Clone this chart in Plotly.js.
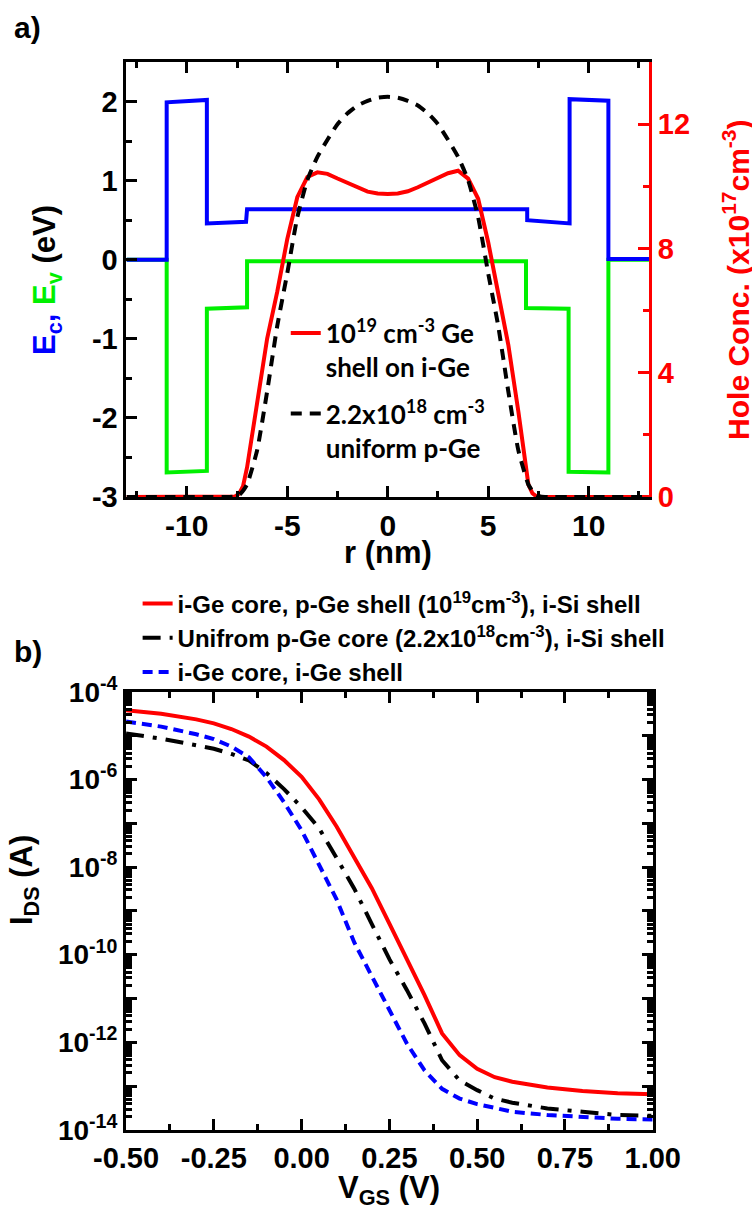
<!DOCTYPE html>
<html>
<head>
<meta charset="utf-8">
<script src="https://cdn.plot.ly/plotly-3.0.1.min.js"></script>
<style>html,body{margin:0;padding:0;background:#fff;}#chart{width:752px;height:1214px;}</style>
</head>
<body>
<div id="chart"></div>
<script>
// ---------- Panel a) band edges (eV) vs r (nm) ----------
const ecR = [-13, -11, -11, -9, -9, -7.05, -7.0, 6.94, 6.94, 9.05, 9.05, 10.98, 10.98, 13];
const ecE = [0, 0, 1.99, 2.02, 0.46, 0.48, 0.64, 0.64, 0.5, 0.46, 2.03, 2.01, 0.01, 0.01];
const evR = [-13, -11, -11, -9, -9, -7.0, -7.0, 6.88, 6.88, 9.0, 9.0, 10.98, 10.98, 13];
const evE = [0, 0, -2.69, -2.67, -0.62, -0.6, -0.02, -0.02, -0.61, -0.62, -2.68, -2.69, 0, 0];

// ---------- Panel a) hole concentration (x1e17 cm^-3) ----------
const holeR = [-13, -11, -9, -8, -7.6, -7.4, -7.2, -7.0, -6.5, -6.0, -5.5, -5.0, -4.5, -4.0, -3.5, -3.0, -2.5, -2.0, -1.5, -1.0, -0.5, 0,
               0.5, 1.0, 1.5, 2.0, 2.5, 3.0, 3.5, 4.0, 4.5, 5.0, 5.5, 6.0, 6.5, 7.0, 7.2, 7.4, 7.6, 8, 9, 11, 13];
const holeShell = [0, 0, 0, 0, 0.02, 0.1, 0.35, 0.95, 3.0, 5.1, 6.6, 8.3, 9.65, 10.3, 10.45, 10.4, 10.25, 10.1, 9.95, 9.83, 9.77, 9.75,
                   9.77, 9.84, 9.97, 10.12, 10.28, 10.42, 10.5, 10.25, 9.6, 8.2, 6.55, 4.9, 2.75, 0.4, 0.12, 0.02, 0, 0, 0, 0, 0];
const holeUniform = [0, 0, 0, 0, 0.02, 0.06, 0.2, 0.4, 1.5, 3.4, 5.5, 7.2, 9.0, 10.2, 10.95, 11.5, 12.0, 12.35, 12.6, 12.75, 12.85, 12.88,
                     12.85, 12.75, 12.6, 12.35, 12.0, 11.5, 10.95, 10.2, 9.0, 7.2, 5.5, 3.4, 1.5, 0.4, 0.2, 0.06, 0.02, 0, 0, 0, 0];

// ---------- Panel b) transfer curves ----------
const vgs = [-0.5, -0.4, -0.3, -0.25, -0.2, -0.15, -0.1, -0.05, 0, 0.05, 0.1, 0.15, 0.2, 0.25, 0.3, 0.35, 0.4, 0.45, 0.5, 0.55, 0.6, 0.7, 0.8, 0.9, 1.0];
const idsShell = [3.8e-5, 3.16e-5, 2.34e-5, 1.9e-5, 1.41e-5, 9.5e-6, 5.6e-6, 2.75e-6, 1.15e-6, 3.5e-7, 8.3e-8, 1.7e-8, 3.3e-9, 5.1e-10, 8.1e-11, 1.2e-11, 1.6e-12, 5.1e-13, 2.5e-13, 1.6e-13, 1.26e-13, 9.3e-14, 7.8e-14, 6.9e-14, 6.5e-14];
const idsUniform = [1.12e-5, 8.5e-6, 6.0e-6, 5.0e-6, 3.8e-6, 2.7e-6, 1.4e-6, 6.0e-7, 2.3e-7, 7.6e-8, 1.6e-8, 3.2e-9, 5.0e-10, 7.9e-11, 1.55e-11, 2.7e-12, 3.9e-13, 1.35e-13, 8.1e-14, 5.2e-14, 4.2e-14, 3.1e-14, 2.6e-14, 2.2e-14, 2.1e-14];
const idsIntrinsic = [2.1e-5, 1.6e-5, 1.07e-5, 8.3e-6, 5.6e-6, 3.2e-6, 1.12e-6, 3.0e-7, 6.9e-8, 1.12e-8, 1.8e-9, 1.9e-10, 3.2e-11, 5.0e-12, 9.3e-13, 2.3e-13, 8.7e-14, 5.2e-14, 3.9e-14, 3.2e-14, 2.6e-14, 2.2e-14, 1.95e-14, 1.8e-14, 1.74e-14];

// ---------- Tick labels ----------
const rTicks = [-10, -5, 0, 5, 10];
const rTickText = ['-10', '-5', '0', '5', '10'];
const eTicks = [-3, -2, -1, 0, 1, 2];
const eTickText = ['-3', '-2', '-1', '0', '1', '2'];
const hTicks = [0, 4, 8, 12];
const hTickText = ['0', '4', '8', '12'];
const vTicks = [-0.5, -0.25, 0, 0.25, 0.5, 0.75, 1.0];
const vTickText = ['-0.50', '-0.25', '0.00', '0.25', '0.50', '0.75', '1.00'];
const iTicks = [1e-14, 1e-13, 1e-12, 1e-11, 1e-10, 1e-9, 1e-8, 1e-7, 1e-6, 1e-5, 1e-4];
const iTickText = ['10<sup>-14</sup>', ' ', '10<sup>-12</sup>', ' ', '10<sup>-10</sup>', ' ', '10<sup>-8</sup>', ' ', '10<sup>-6</sup>', ' ', '10<sup>-4</sup>'];
// minor tick positions
const rMinor = [-12.5, -7.5, -2.5, 2.5, 7.5, 12.5];
const eMinor = [-2.5, -1.5, -0.5, 0.5, 1.5, 2.5];
const hMinor = [2, 6, 10, 14];
const vMinor = [-0.375, -0.125, 0.125, 0.375, 0.625, 0.875];
const iMinor = [];
for (let e = -14; e < -4; e++) { for (let m = 2; m <= 9; m++) { iMinor.push(m * Math.pow(10, e)); } }

// ---------- Texts ----------
const legA = ['10<sup>19</sup> cm<sup>-3</sup> Ge<br>shell on i-Ge', '2.2x10<sup>18</sup> cm<sup>-3</sup><br>uniform p-Ge'];
const legB = ['i-Ge core, p-Ge shell (10<sup>19</sup>cm<sup>-3</sup>), i-Si shell',
              'Unifrom p-Ge core (2.2x10<sup>18</sup>cm<sup>-3</sup>), i-Si shell',
              'i-Ge core, i-Ge shell'];
const titleEnergy = '<span style="color:#0000ff">E<sub>c</sub>,</span> <span style="color:#00f000">E<sub>v</sub></span> (eV)';
const titleHole = 'Hole Conc. (x10<sup>17</sup>cm<sup>-3</sup>)';
const titleR = 'r (nm)';
const titleV = 'V<sub>GS</sub> (V)';
const titleI = 'I<sub>DS</sub> (A)';

const RED = '#ff0000', BLUE = '#0000ff', GREEN = '#00f000', BLACK = '#000';
const AR = 'Liberation Sans, Arial, sans-serif';
const tf = (size, color) => ({family: AR, size: size, color: color || BLACK, weight: 'bold'});

const traces = [
  {x: evR, y: evE, xaxis: 'x', yaxis: 'y', mode: 'lines', line: {color: GREEN, width: 4}, showlegend: false},
  {x: ecR, y: ecE, xaxis: 'x', yaxis: 'y', mode: 'lines', line: {color: BLUE, width: 4}, showlegend: false},
  {x: holeR, y: holeShell, xaxis: 'x', yaxis: 'y2', mode: 'lines', line: {color: RED, width: 4},
   name: legA[0], legend: 'legend', legendgroup: 'a1'},
  {x: holeR, y: holeUniform, xaxis: 'x', yaxis: 'y2', mode: 'lines', line: {color: BLACK, width: 4, dash: '11px,8px', shape: 'spline', smoothing: 0.5},
   name: legA[1], legend: 'legend', legendgroup: 'a2'},
  {x: vgs, y: idsShell, xaxis: 'x2', yaxis: 'y3', mode: 'lines', line: {color: RED, width: 4},
   name: legB[0], legend: 'legend2', legendgroup: 'b1'},
  {x: vgs, y: idsUniform, xaxis: 'x2', yaxis: 'y3', mode: 'lines', line: {color: BLACK, width: 4, dash: '18px,9px,4px,9px'},
   name: legB[1], legend: 'legend2', legendgroup: 'b2'},
  {x: vgs, y: idsIntrinsic, xaxis: 'x2', yaxis: 'y3', mode: 'lines', line: {color: BLUE, width: 4, dash: '10px,6px'},
   name: legB[2], legend: 'legend2', legendgroup: 'b3'}
];

const axBase = {showline: true, linewidth: 3, linecolor: BLACK, ticks: 'inside', ticklen: 11, tickwidth: 3, tickcolor: BLACK,
                showgrid: false, zeroline: false, tickmode: 'array'};
const mn = (vals, c) => ({tickmode: 'array', tickvals: vals, ticks: 'inside', ticklen: 6, tickwidth: 3, tickcolor: c || BLACK});
const ann = (text, x, y, size, color, angle) => ({text: text, xref: 'paper', yref: 'paper', x: x, y: y, showarrow: false,
  font: tf(size, color), xanchor: 'center', yanchor: 'middle', textangle: angle || 0});

const layout = {
  width: 752, height: 1214,
  margin: {l: 0, r: 0, t: 0, b: 0},
  xaxis: Object.assign({}, axBase, {
    domain: [0.1682, 0.863], anchor: 'y', range: [-13, 13], mirror: 'ticks',
    tickvals: rTicks, ticktext: rTickText, tickfont: tf(30), minor: mn(rMinor)
  }),
  yaxis: Object.assign({}, axBase, {
    domain: [0.5906, 0.9489], anchor: 'x', range: [-3, 2.5],
    tickvals: eTicks, ticktext: eTickText, tickfont: tf(29), minor: mn(eMinor)
  }),
  yaxis2: Object.assign({}, axBase, {
    overlaying: 'y', side: 'right', anchor: 'x', range: [0, 14],
    linecolor: RED, tickcolor: RED,
    tickvals: hTicks, ticktext: hTickText, tickfont: tf(29, RED), minor: mn(hMinor, RED)
  }),
  xaxis2: Object.assign({}, axBase, {
    domain: [0.1676, 0.868], anchor: 'y3', range: [-0.5, 1.0], mirror: 'ticks',
    tickvals: vTicks, ticktext: vTickText, tickfont: tf(29), minor: mn(vMinor)
  }),
  yaxis3: Object.assign({}, axBase, {
    domain: [0.0692, 0.4302], anchor: 'x2', type: 'log', range: [-14, -4], mirror: 'ticks',
    tickvals: iTicks, ticktext: iTickText, tickfont: tf(28), minor: mn(iMinor)
  }),
  legend: {
    x: 0.380, y: 0.745, xanchor: 'left', yanchor: 'top', bgcolor: 'rgba(0,0,0,0)', borderwidth: 0,
    font: {family: 'Lato, Open Sans, sans-serif', size: 26, color: BLACK, weight: 'bold'},
    valign: 'top', traceorder: 'grouped', tracegroupgap: 10
  },
  legend2: {
    x: 0.183, y: 0.521, xanchor: 'left', yanchor: 'top', bgcolor: 'rgba(0,0,0,0)', borderwidth: 0,
    font: tf(24), traceorder: 'grouped', tracegroupgap: 0
  },
  annotations: [
    ann('a)', 0.037, 0.977, 30),
    ann('b)', 0.037, 0.463, 30),
    ann(titleEnergy, 0.0625, 0.7694, 31, BLACK, -90),
    ann(titleHole, 0.9787, 0.7694, 30, RED, -90),
    ann(titleR, 0.516, 0.5445, 31),
    ann(titleV, 0.517, 0.0198, 31),
    ann(titleI, 0.032, 0.2751, 31, BLACK, -90)
  ],
  showlegend: true
};

Plotly.newPlot('chart', traces, layout, {staticPlot: true});
</script>
</body>
</html>
